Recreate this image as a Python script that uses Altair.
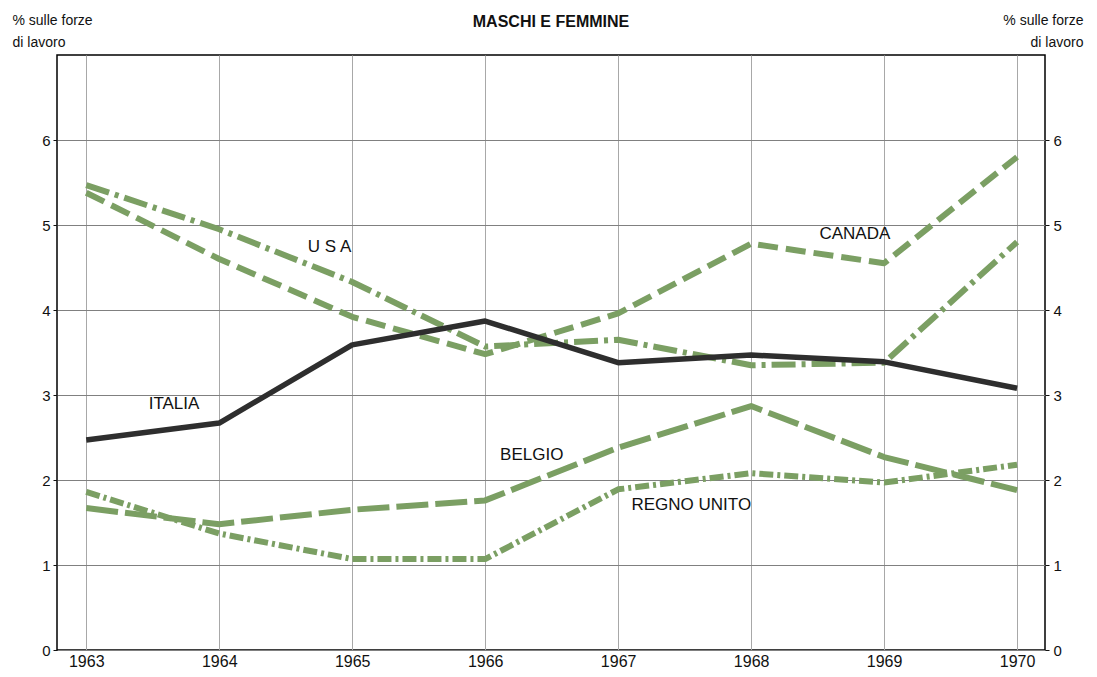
import altair as alt
import pandas as pd

years = [1963, 1964, 1965, 1966, 1967, 1968, 1969, 1970]
canada = [5.38, 4.60, 3.92, 3.48, 3.96, 4.78, 4.55, 5.80]
usa = [5.47, 4.95, 4.33, 3.57, 3.65, 3.35, 3.38, 4.80]
belgio = [1.67, 1.48, 1.65, 1.76, 2.38, 2.87, 2.27, 1.88]
regno_unito = [1.86, 1.37, 1.07, 1.07, 1.89, 2.08, 1.97, 2.18]
italia = [2.47, 2.67, 3.59, 3.87, 3.38, 3.47, 3.39, 3.08]

series_names = ["CANADA", "USA", "BELGIO", "REGNO UNITO", "ITALIA"]
series_values = [canada, usa, belgio, regno_unito, italia]

label_text = ["U S A", "CANADA", "ITALIA", "BELGIO", "REGNO UNITO"]
label_x = [1964.83, 1968.78, 1963.66, 1966.35, 1967.55]
label_y = [4.74, 4.90, 2.90, 2.29, 1.71]

y_ticks = [0, 1, 2, 3, 4, 5, 6]
axis_title = ["% sulle forze", "di lavoro"]

FONT = "Liberation Sans"
GREEN = "#7b9f63"
DARK = "#2e2e2e"
styles = {
    "CANADA": dict(color=GREEN, strokeWidth=6, strokeDash=[20, 8]),
    "USA": dict(color=GREEN, strokeWidth=6, strokeDash=[24, 6, 4, 6]),
    "BELGIO": dict(color=GREEN, strokeWidth=6, strokeDash=[32, 7]),
    "REGNO UNITO": dict(color=GREEN, strokeWidth=6, strokeDash=[14, 4, 3, 4]),
    "ITALIA": dict(color=DARK, strokeWidth=5.5),
}

x_scale = alt.Scale(domain=[1962.78, 1970.21], nice=False, zero=False)
y_scale = alt.Scale(domain=[0, 7], nice=False, zero=True)

x_axis = alt.Axis(values=years, format="d", grid=True, gridColor="#a8a8a8", gridWidth=1,
                  ticks=False, domain=False, labelPadding=3, labelFontSize=16,
                  labelFont=FONT, labelColor="#111", title=None)

left_axis = alt.Axis(values=y_ticks, grid=True, gridColor="#808080", gridWidth=1,
                     tickSize=4, tickColor="#111", domain=False, labelPadding=3,
                     labelFontSize=15, labelFont=FONT, labelColor="#111",
                     title=axis_title, titleAngle=0, titleAlign="left", titleBaseline="top",
                     titleX=-45, titleY=-42, titleFontSize=14, titleFontWeight="normal",
                     titleFont=FONT, titleColor="#111", titleLineHeight=22)

right_axis = alt.Axis(values=y_ticks, orient="right", grid=False,
                      tickSize=4, tickColor="#111", domain=False, labelPadding=4,
                      labelFontSize=15, labelFont=FONT, labelColor="#111",
                      title=axis_title, titleAngle=0, titleAlign="right", titleBaseline="top",
                      titleX=38, titleY=-42, titleFontSize=14, titleFontWeight="normal",
                      titleFont=FONT, titleColor="#111", titleLineHeight=22)

layers = []
for i, (name, vals) in enumerate(zip(series_names, series_values)):
    df = pd.DataFrame({"year": years, "value": vals, "serie": name})
    layers.append(
        alt.Chart(df).mark_line(strokeCap="butt", strokeJoin="round", **styles[name]).encode(
            x=alt.X("year:Q", scale=x_scale, axis=x_axis),
            y=alt.Y("value:Q", scale=y_scale, axis=left_axis if i == 0 else None),
        )
    )

labels_df = pd.DataFrame({"label": label_text, "x": label_x, "y": label_y})
labels = alt.Chart(labels_df).mark_text(font=FONT, fontSize=17, color="#111").encode(
    x=alt.X("x:Q", scale=x_scale, axis=x_axis),
    y=alt.Y("y:Q", scale=y_scale, axis=right_axis),
    text="label:N",
)

chart = alt.layer(*layers, labels).resolve_axis(y="independent").properties(
    width=988, height=595,
    title=alt.Title("MASCHI E FEMMINE", fontSize=16, fontWeight="bold", font=FONT,
                    anchor="middle", offset=-17, color="#111"),
    autosize=alt.AutoSizeParams(type="none"),
    padding={"left": 49, "top": 47, "right": 44, "bottom": 19},
).configure_view(stroke="black", strokeWidth=1.5)

chart.save("out.html", embed_options={"renderer": "svg", "actions": False})
